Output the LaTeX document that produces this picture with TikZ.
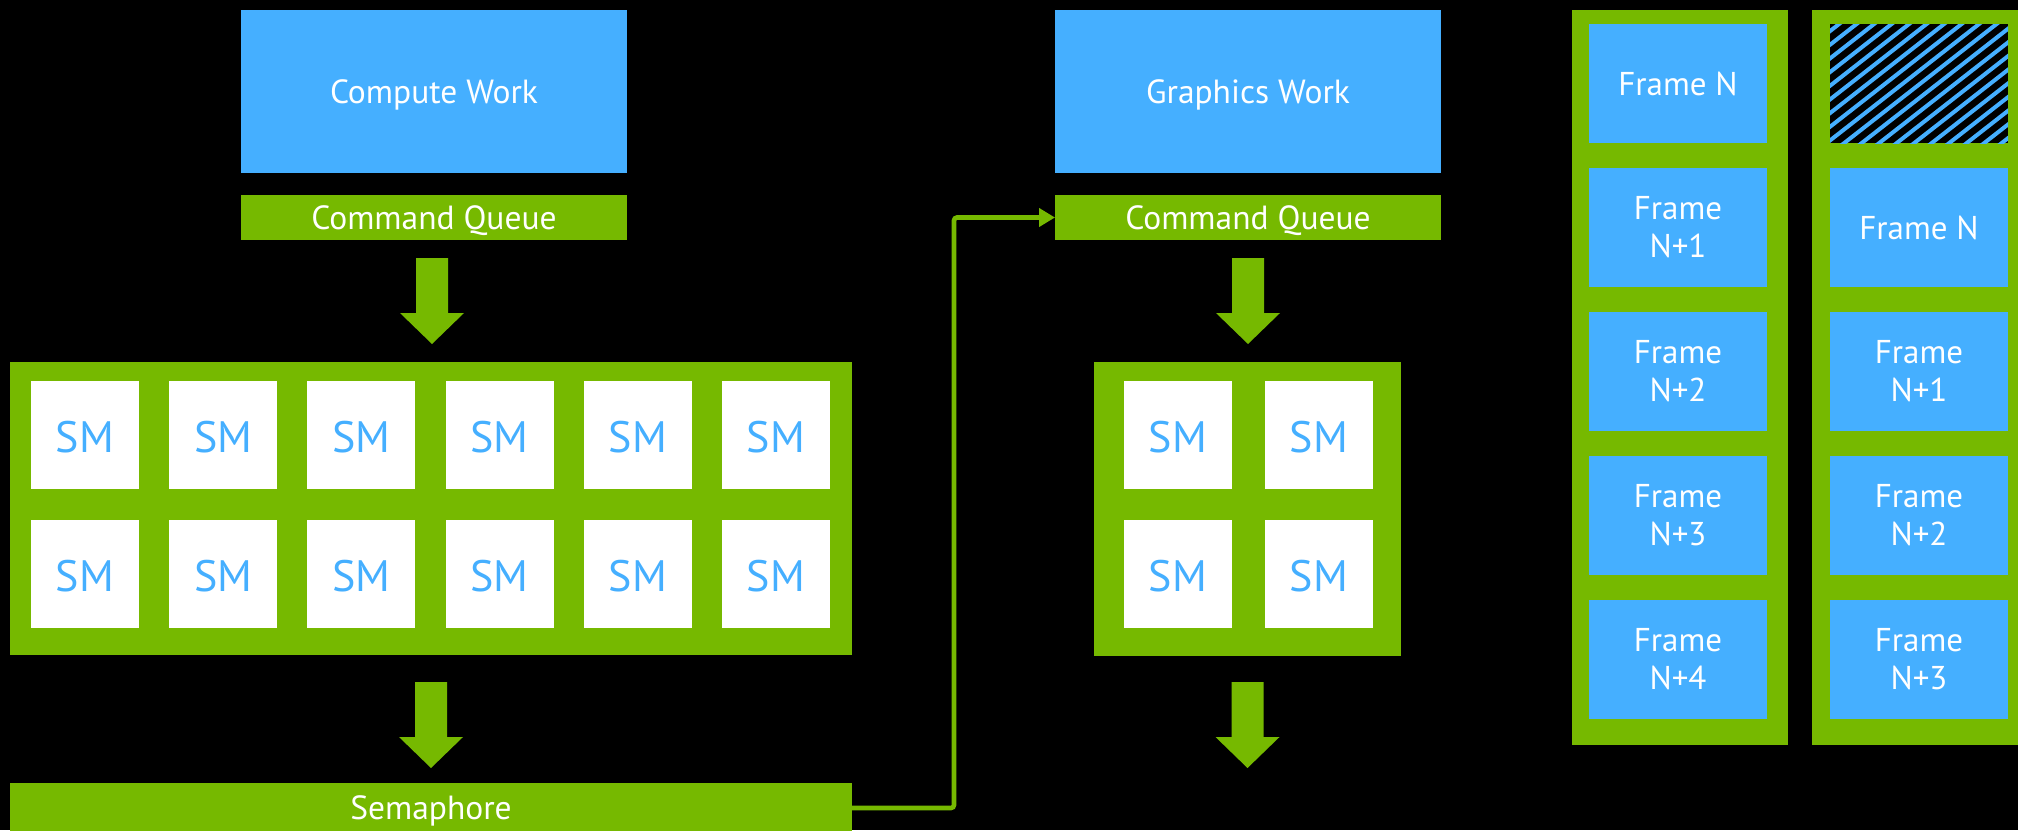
\documentclass[tikz,border=0pt]{standalone}
\usepackage{fontspec}
\setmainfont{PT Sans}
\usetikzlibrary{arrows.meta,calc}
\definecolor{nvgreen}{HTML}{76B900}
\definecolor{nvblue}{HTML}{45AFFF}
\begin{document}
\begin{tikzpicture}[x=1pt,y=-1pt,
  box/.style={draw=none, inner sep=0pt, outer sep=0pt, anchor=north west},
  workbox/.style={box, fill=nvblue, text=white, font=\fontsize{33.5}{38}\selectfont, text depth=0pt, minimum width=386pt, minimum height=163pt},
  queuebar/.style={box, fill=nvgreen, text=white, font=\fontsize{33.5}{38}\selectfont, text depth=0pt, minimum height=45pt},
  panel/.style={box, fill=nvgreen},
  smbox/.style={box, fill=white, text=nvblue, font=\fontsize{44}{44}\selectfont, text depth=0pt, text height=35pt, minimum width=108pt, minimum height=108pt},
  framebox/.style={box, fill=nvblue, text=white, align=center, font=\fontsize{33}{38}\selectfont, minimum width=178pt, minimum height=119pt},
  link/.style={draw=nvgreen, line width=4.6pt, rounded corners=3pt, -{Triangle[length=16pt,width=18pt]}},
  fatarrow/.pic={\fill[nvgreen] (-16,0) -- (16,0) -- (16,55) -- (32,55) -- (0,86) -- (-32,55) -- (-16,55) -- cycle;}
]
\useasboundingbox (0,0) rectangle (2018,830);
\clip (0,0) rectangle (2018,830);
\fill[black] (0,0) rectangle (2018,830);

% ---------- compute side ----------
\node[workbox] (cw) at (241,10) {Compute Work};
\node[queuebar, minimum width=386pt] (cq1) at (241,195) {Command Queue};
\node[panel, minimum width=842pt, minimum height=293pt] (cpanel) at (10,362) {};
\foreach \i in {0,...,5} {
  \node[smbox] (csma\i) at ({31+138.2*\i},381) {SM};
  \node[smbox] (csmb\i) at ({31+138.2*\i},520) {SM};
}
\node[queuebar, minimum width=842pt, minimum height=50pt] (sem) at (10,783) {Semaphore};
\coordinate (ca1) at ($(cq1.south)+(-2,18)$);
\coordinate (ca2) at ($(cpanel.south)+(0,27)$);
\pic at (ca1) {fatarrow};
\pic at (ca2) {fatarrow};

% ---------- graphics side ----------
\node[workbox] (gw) at (1055,10) {Graphics Work};
\node[queuebar, minimum width=386pt] (cq2) at (1055,195) {Command Queue};
\node[panel, minimum width=307pt, minimum height=294pt] (gpanel) at (1094,362) {};
\foreach \i in {0,1} {
  \node[smbox] (gsma\i) at ({1124+141*\i},381) {SM};
  \node[smbox] (gsmb\i) at ({1124+141*\i},520) {SM};
}
\coordinate (ga1) at ($(cq2.south)+(0,18)$);
\coordinate (ga2) at ($(gpanel.south)+(0,26)$);
\pic at (ga1) {fatarrow};
\pic at (ga2) {fatarrow};

% semaphore -> graphics command queue
\draw[link] (sem.east) -- ++(102,0) |- (cq2.west);

% ---------- frame columns ----------
\node[panel, minimum width=216pt, minimum height=735pt] (colA) at (1572,10) {};
\node[panel, minimum width=216pt, minimum height=735pt] (colB) at (1812,10) {};

\node[framebox] (fa0) at (1589,24) {Frame N};
\node[framebox] (fa1) at (1589,168) {Frame\\N+1};
\node[framebox] (fa2) at (1589,312) {Frame\\N+2};
\node[framebox] (fa3) at (1589,456) {Frame\\N+3};
\node[framebox] (fa4) at (1589,600) {Frame\\N+4};

\node[box, fill=black, minimum width=178pt, minimum height=119pt] (fb0) at (1830,24) {};
\begin{scope}
  \clip (fb0.north west) rectangle (fb0.south east);
  \foreach \k in {0,...,30} {
    \draw[nvblue, line width=4pt] ({1830-200+17.5*\k},160) -- ++(256,-200);
  }
\end{scope}
\node[framebox] (fb1) at (1830,168) {Frame N};
\node[framebox] (fb2) at (1830,312) {Frame\\N+1};
\node[framebox] (fb3) at (1830,456) {Frame\\N+2};
\node[framebox] (fb4) at (1830,600) {Frame\\N+3};
\end{tikzpicture}
\end{document}
